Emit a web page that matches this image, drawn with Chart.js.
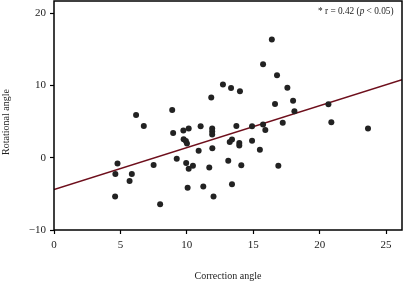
<!DOCTYPE html>
<html>
<head>
<meta charset="utf-8">
<script src="https://cdn.jsdelivr.net/npm/chart.js@4/dist/chart.umd.min.js"></script>
<style>
html,body{margin:0;padding:0;background:#fff;}
canvas{display:block;}
</style>
</head>
<body>
<canvas id="c" width="403" height="282"></canvas>
<script>
const correctionAngle = [4.60,4.62,4.78,5.69,5.86,6.18,6.76,7.50,7.99,8.90,8.97,9.24,9.74,9.76,9.93,10.01,9.95,10.14,10.06,10.14,10.46,10.89,11.04,11.24,11.69,11.84,11.91,11.91,11.91,11.92,12.01,12.72,13.12,13.23,13.40,13.33,13.40,13.73,13.95,13.95,14.00,14.10,14.91,14.91,15.50,15.74,15.74,15.91,16.40,16.64,16.79,16.89,17.22,17.57,18.00,18.10,20.66,20.88,23.64];
const rotationalAngle = [-5.37,-2.26,-0.80,-3.23,-2.26,5.91,4.39,-1.01,-6.45,6.61,3.42,-0.15,3.77,2.55,2.31,1.99,-0.73,-1.52,-4.16,4.04,-1.12,0.97,4.36,-3.99,-1.36,8.34,4.04,3.63,3.21,1.32,-5.37,10.14,-0.42,2.17,2.52,9.65,-3.68,4.39,2.04,1.69,9.21,-1.04,4.35,2.34,1.11,4.60,12.95,3.84,16.37,7.44,11.41,-1.11,4.83,9.68,7.89,6.44,7.40,4.92,4.04];
const fitLineX = [0, 26.2];
const fitLineY = [-4.4, 10.8];
const xTicks = [0,5,10,15,20,25];
const yTicks = [-10,0,10,20];
const xTitle = "Correction angle";
const yTitle = "Rotational angle";

const FONT = "'Liberation Serif', 'DejaVu Serif', serif";

const framePlugin = {
  id: 'frame',
  afterDatasetsDraw(chart) {
    const {ctx, chartArea:a} = chart;
    ctx.save();
    ctx.strokeStyle = '#000';
    ctx.lineWidth = 1.5;
    ctx.strokeRect(a.left, a.top, a.right - a.left, a.bottom - a.top);
    ctx.restore();
  },
  afterDraw(chart) {
    const {ctx, chartArea:a} = chart;
    ctx.save();
    ctx.fillStyle = '#222';
    ctx.font = "10px " + FONT;
    ctx.textAlign = 'center';
    ctx.textBaseline = 'middle';
    ctx.fillText(xTitle, (a.left + a.right) / 2, 276);
    ctx.translate(6, 122);
    ctx.rotate(-Math.PI / 2);
    ctx.fillText(yTitle, 0, 0);
    ctx.restore();
    // annotation
    ctx.save();
    ctx.fillStyle = '#222';
    ctx.textBaseline = 'middle';
    ctx.textAlign = 'left';
    let x = 318, y = 12;
    const parts = [["* r = 0.42 (", "9.3px " + FONT], ["p", "italic 9.3px " + FONT], [" < 0.05)", "9.3px " + FONT]];
    for (const [t, f] of parts) {
      ctx.font = f;
      ctx.fillText(t, x, y);
      x += ctx.measureText(t).width;
    }
    ctx.restore();
  }
};

const points = correctionAngle.map((v, i) => ({x: v, y: rotationalAngle[i]}));
const line = fitLineX.map((v, i) => ({x: v, y: fitLineY[i]}));

new Chart(document.getElementById('c'), {
  type: 'scatter',
  data: {
    datasets: [
      {
        type: 'line',
        data: line,
        borderColor: '#6e0f1c',
        borderWidth: 1.5,
        pointRadius: 0,
        fill: false,
        order: 2
      },
      {
        data: points,
        backgroundColor: '#222',
        borderColor: '#222',
        pointRadius: 3,
        pointBorderWidth: 0,
        order: 1
      }
    ]
  },
  options: {
    responsive: false,
    animation: false,
    devicePixelRatio: 1,
    layout: {autoPadding: false, padding: {top: 1, right: 1, left: 0, bottom: 0}},
    plugins: {legend: {display: false}, tooltip: {enabled: false}},
    scales: {
      x: {
        type: 'linear',
        min: 0, max: 26.2,
        afterFit(s) { s.height = 52; s.paddingLeft = 0; s.paddingRight = 0; },
        afterBuildTicks(s) { s.ticks = xTicks.map(v => ({value: v})); },
        border: {display: false},
        grid: {drawOnChartArea: false, drawTicks: true, tickLength: 4, tickColor: '#000', tickWidth: 1.2},
        ticks: {color: '#222', padding: 5, font: {family: FONT, size: 11}, maxRotation: 0,
          callback: v => String(v).replace('-', '\u2212')}
      },
      y: {
        type: 'linear',
        min: -10, max: 21.7,
        afterFit(s) { s.width = 54; s.paddingTop = 0; s.paddingBottom = 0; },
        afterBuildTicks(s) { s.ticks = yTicks.map(v => ({value: v})); },
        border: {display: false},
        grid: {drawOnChartArea: false, drawTicks: true, tickLength: 4, tickColor: '#000', tickWidth: 1.2},
        ticks: {color: '#222', padding: 4, font: {family: FONT, size: 11},
          callback: v => String(v).replace('-', '\u2212')}
      }
    }
  },
  plugins: [framePlugin]
});
</script>
</body>
</html>
